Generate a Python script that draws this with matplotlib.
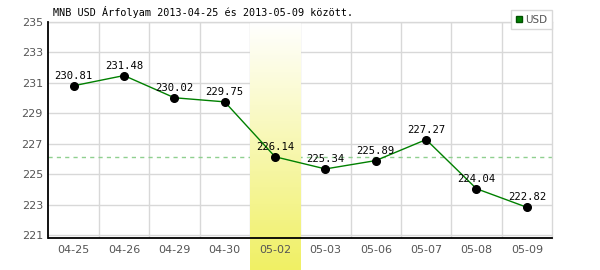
import numpy as np
import matplotlib
matplotlib.use("Agg")
import matplotlib.pyplot as plt
from matplotlib.lines import Line2D

dates = ["04-25", "04-26", "04-29", "04-30", "05-02",
         "05-03", "05-06", "05-07", "05-08", "05-09"]
usd = [230.81, 231.48, 230.02, 229.75, 226.14,
       225.34, 225.89, 227.27, 224.04, 222.82]
reference_level = 226.1
highlight = "05-02"
y_ticks = [221, 223, 225, 227, 229, 231, 233, 235]
title = "MNB USD Árfolyam 2013-04-25 és 2013-05-09 között."

GRID = "#d8d8d8"
TICK = "#555555"
MONO = "DejaVu Sans Mono"

fig = plt.figure(figsize=(6, 2.7), dpi=100)
ax = fig.add_axes([48.5 / 600, 1 - 238 / 270, 503.5 / 600, 216 / 270])
ax.patch.set_alpha(0)

x = np.arange(len(dates))
ax.set_xlim(-0.5, len(dates) - 0.5)
ax.set_ylim(220.8, 235)

ax.set_yticks(y_ticks)
ax.set_xticks(x)
ax.set_xticklabels(dates)
ax.tick_params(axis="both", which="both", length=0, labelsize=8, labelcolor=TICK)
ax.tick_params(axis="y", pad=4)
ax.tick_params(axis="x", pad=5)

# grid drawn as plain lines so the band can sit above it and below the labels
for yt in y_ticks:
    ax.axhline(yt, color=GRID, linewidth=1, zorder=0.5)
for xb in x[:-1] + 0.5:
    ax.axvline(xb, color=GRID, linewidth=1, zorder=0.5)

for side in ["left", "bottom"]:
    ax.spines[side].set_color("black")
    ax.spines[side].set_linewidth(1.3)
    ax.spines[side].set_zorder(5)
for side in ["top", "right"]:
    ax.spines[side].set_color(GRID)
    ax.spines[side].set_linewidth(1)

# average line
ax.axhline(reference_level, color="#8fd08f", linestyle=(0, (3, 3)),
           linewidth=1, zorder=0.7)

# highlighted day: gradient band down to figure bottom
hi = dates.index(highlight)
y_bottom = ax.transData.inverted().transform(fig.transFigure.transform((0, 0)))[1]
grad = np.linspace(0, 1, 256)[:, None]
top_c = np.array([1.0, 1.0, 1.0])
bot_c = np.array([240, 240, 100]) / 255
img = top_c + (bot_c - top_c) * grad
img = img[:, None, :]
ax.imshow(img, extent=(hi - 0.5, hi + 0.5, y_bottom, 235), origin="upper",
          aspect="auto", clip_on=False, zorder=1, interpolation="bilinear")
ax.set_xlim(-0.5, len(dates) - 0.5)
ax.set_ylim(220.8, 235)

# series
ax.plot(x, usd, color="#008000", linewidth=1, zorder=3)
ax.plot(x, usd, "o", color="black", markersize=5.5, zorder=4)
for xi, v in zip(x, usd):
    ax.annotate(f"{v:.2f}", (xi, v), xytext=(0, 3.5), textcoords="offset points",
                ha="center", va="bottom", fontsize=7.6, family=MONO,
                color="black", zorder=6)

ax.text(4.5 / 503.5, 1 + 4 / 216, title, transform=ax.transAxes,
        fontsize=7.3, family=MONO, color="black", ha="left", va="bottom")

handle = Line2D([], [], marker="s", linestyle="none", markersize=5,
                markerfacecolor="#008000", markeredgecolor="#005000")
leg = ax.legend([handle], ["USD"], loc="upper right",
                bbox_to_anchor=(1, 1 + 12 / 216), borderaxespad=0,
                fancybox=False, framealpha=1, edgecolor=GRID,
                fontsize=7.5, handlelength=0.7, handletextpad=0.2,
                borderpad=0.45, labelcolor=TICK)
leg.get_frame().set_linewidth(1)
leg.set_zorder(7)

fig.savefig("out.png", dpi=100)
